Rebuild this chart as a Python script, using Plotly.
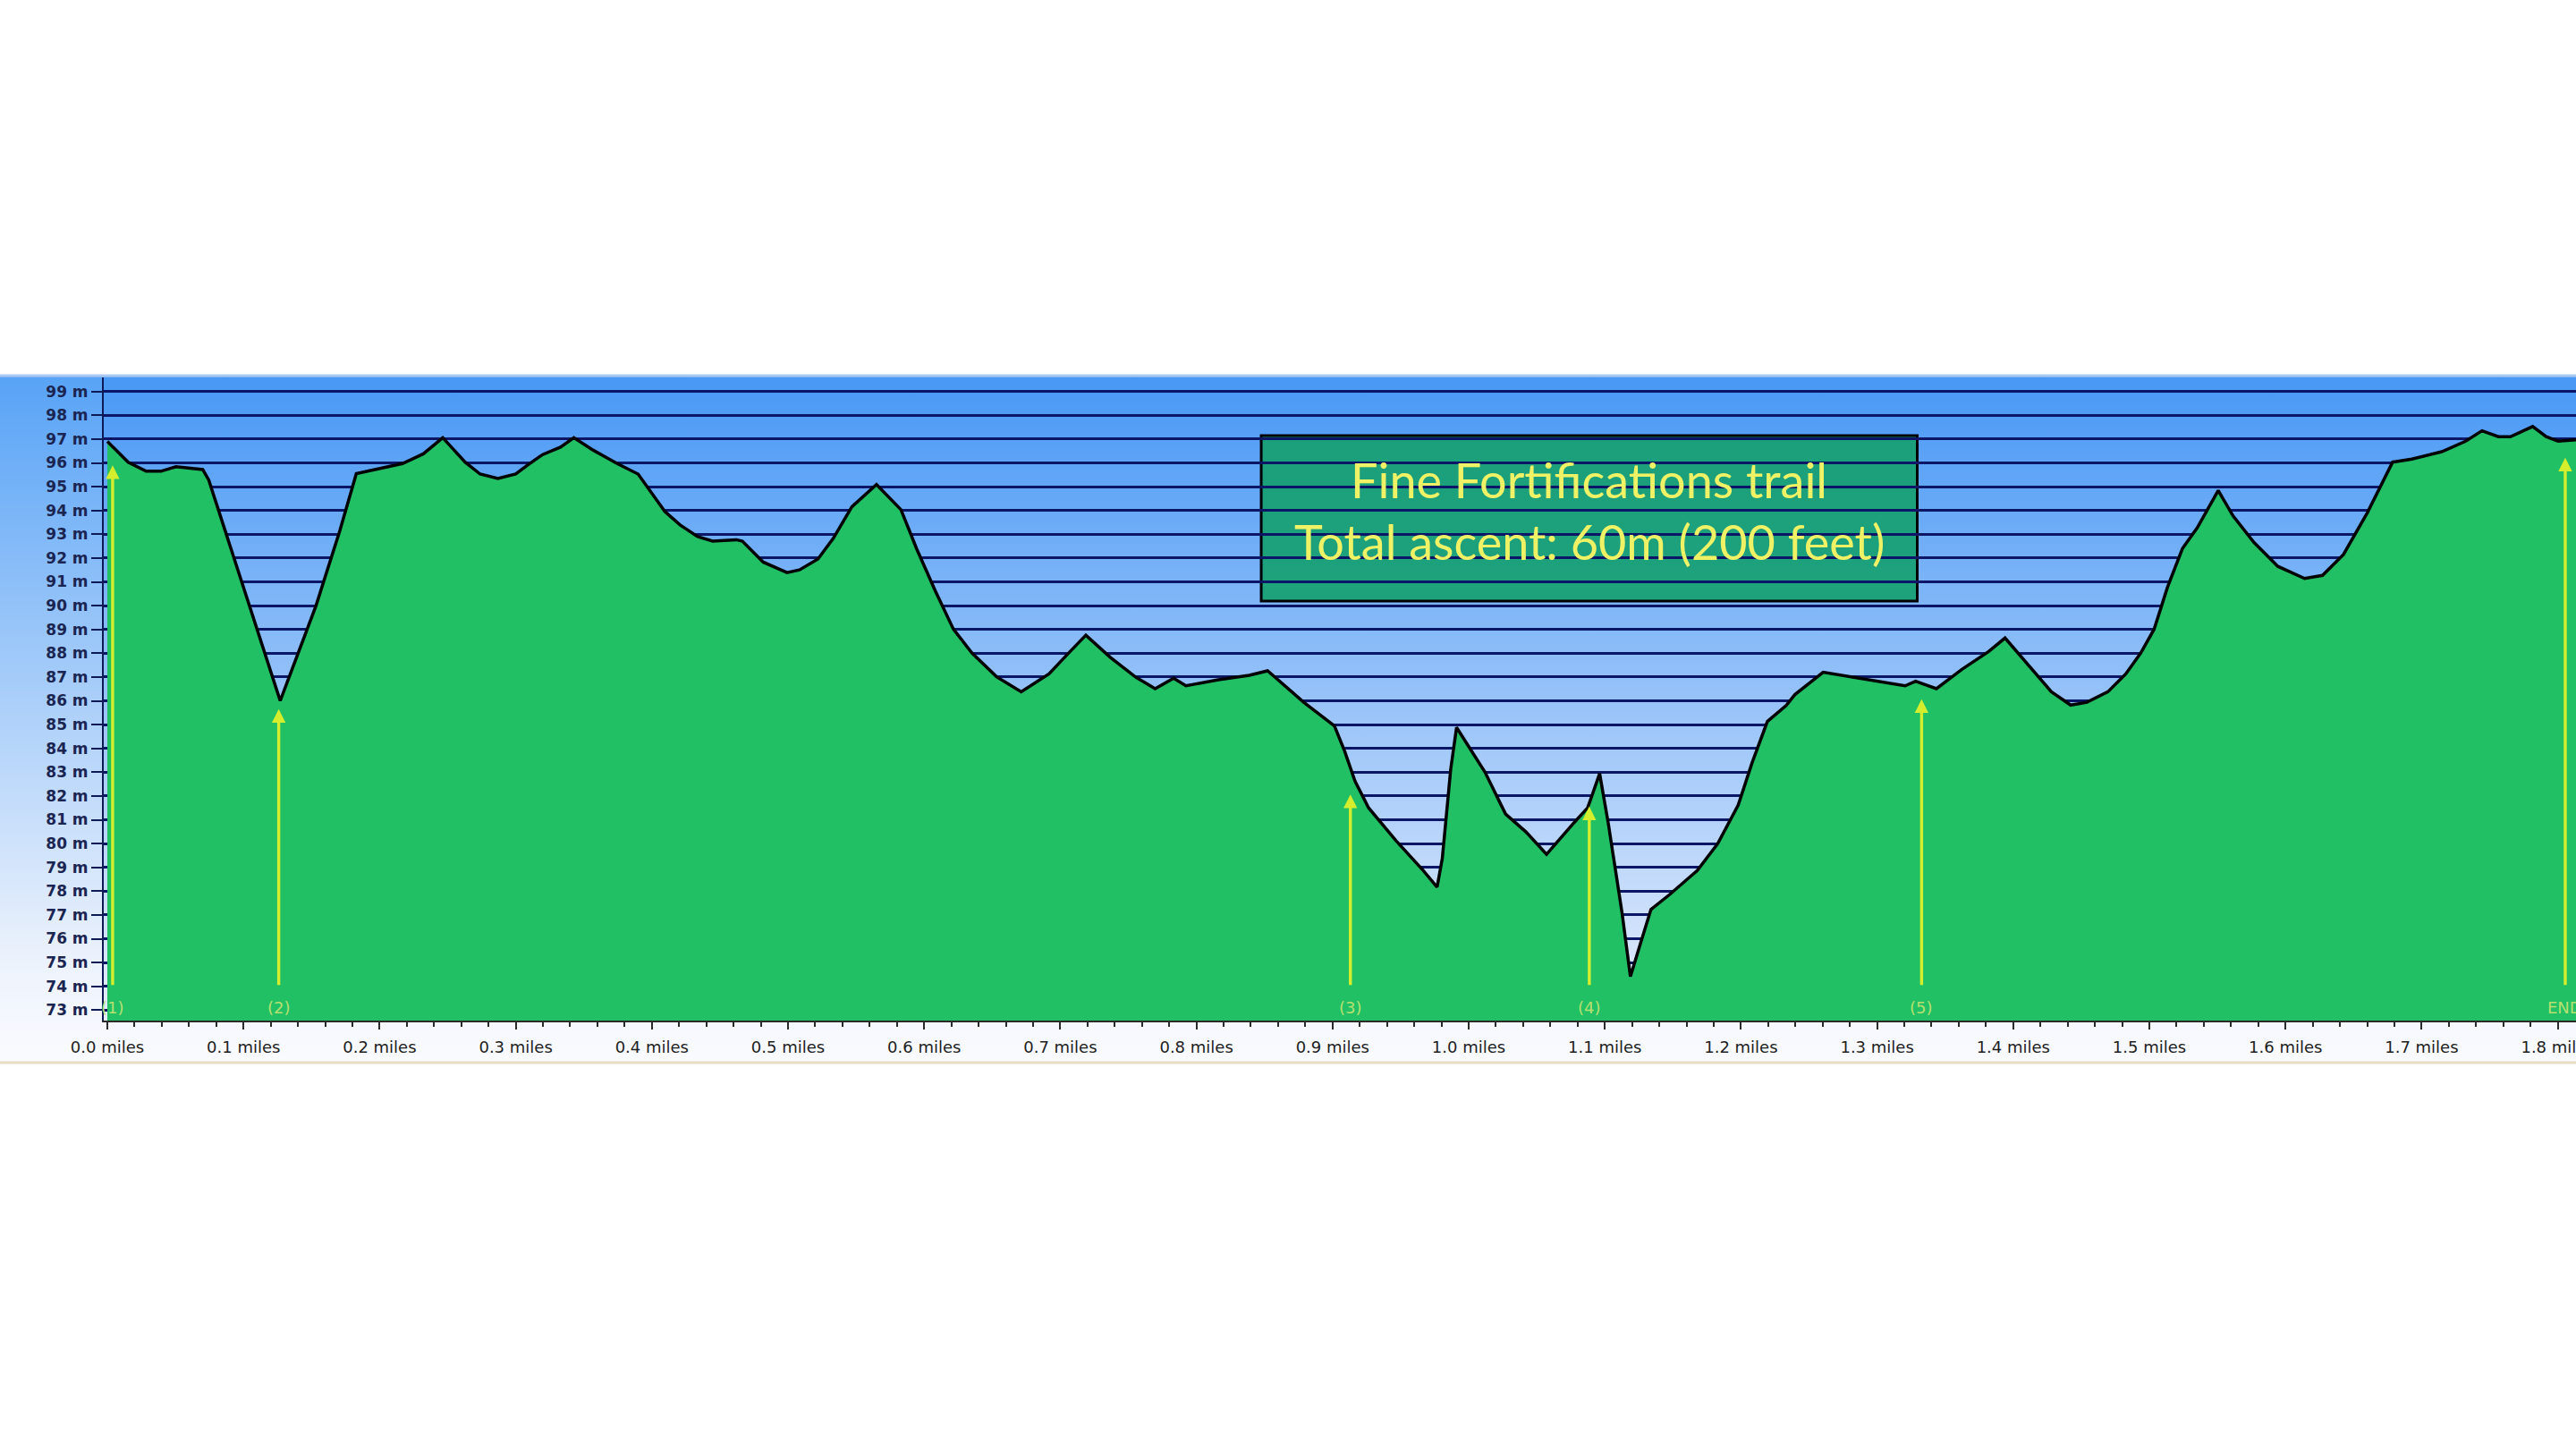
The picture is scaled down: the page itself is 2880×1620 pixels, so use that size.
import plotly.graph_objects as go

# ---------------- data ----------------
miles = [0.0000, 0.0153, 0.0285, 0.0394, 0.0504, 0.0701, 0.0745, 0.1270, 0.1533, 0.1708,
         0.1829, 0.1905, 0.2168, 0.2321, 0.2464, 0.2628, 0.2738, 0.2869, 0.3000, 0.3088,
         0.3198, 0.3329, 0.3427, 0.3570, 0.3745, 0.3899, 0.3986, 0.4095, 0.4205, 0.4336,
         0.4446, 0.4621, 0.4665, 0.4818, 0.4993, 0.5084, 0.5220, 0.5333, 0.5469, 0.5650,
         0.5830, 0.5944, 0.6080, 0.6215, 0.6351, 0.6532, 0.6713, 0.6917, 0.7052, 0.7188,
         0.7369, 0.7550, 0.7697, 0.7833, 0.7923, 0.8161, 0.8388, 0.8523, 0.8586, 0.8788,
         0.9014, 0.9089, 0.9165, 0.9265, 0.9466, 0.9667, 0.9768, 0.9806, 0.9868, 0.9911,
         1.0120, 1.0271, 1.0421, 1.0572, 1.0773, 1.0874, 1.0962, 1.1025, 1.1126, 1.1188,
         1.1251, 1.1339, 1.1477, 1.1679, 1.1829, 1.1980, 1.2081, 1.2194, 1.2332, 1.2396,
         1.2604, 1.2878, 1.3206, 1.3283, 1.3436, 1.3623, 1.3820, 1.3940, 1.4126, 1.4280,
         1.4422, 1.4542, 1.4696, 1.4827, 1.4937, 1.5035, 1.5133, 1.5243, 1.5352, 1.5506,
         1.5615, 1.5769, 1.5944, 1.6141, 1.6272, 1.6426, 1.6601, 1.6787, 1.6929, 1.7148,
         1.7323, 1.7444, 1.7564, 1.7652, 1.7816, 1.7915, 1.8002, 1.8134]
elevation_m = [96.90, 96.03, 95.65, 95.65, 95.84, 95.72, 95.28, 86.00, 90.00, 93.15,
               95.55, 95.65, 95.97, 96.38, 97.06, 96.03, 95.53, 95.34, 95.53, 95.91,
               96.35, 96.66, 97.06, 96.53, 95.97, 95.53, 94.84, 93.96, 93.40, 92.90,
               92.71, 92.77, 92.71, 91.83, 91.39, 91.50, 91.96, 92.83, 94.15, 95.09,
               94.03, 92.40, 90.64, 89.01, 88.01, 87.01, 86.38, 87.13, 87.95, 88.76,
               87.82, 87.01, 86.51, 86.95, 86.63, 86.88, 87.07, 87.26, 86.95, 85.94,
               84.94, 83.88, 82.62, 81.50, 80.12, 78.86, 78.17, 79.36, 83.12, 84.88,
               83.00, 81.24, 80.49, 79.55, 80.87, 81.50, 82.94, 80.87, 77.11, 74.41,
               75.60, 77.23, 77.86, 78.86, 79.99, 81.62, 83.38, 85.13, 85.80, 86.26,
               87.20, 86.95, 86.63, 86.82, 86.51, 87.32, 88.07, 88.64, 87.38, 86.38,
               85.82, 85.94, 86.38, 87.13, 88.01, 89.01, 90.77, 92.40, 93.27, 94.84,
               93.77, 92.65, 91.65, 91.14, 91.27, 92.15, 93.90, 96.03, 96.16, 96.47,
               96.91, 97.35, 97.10, 97.10, 97.53, 97.10, 96.91, 96.97]

waypoint_labels = ["(1)", "(2)", "(3)", "(4)", "(5)", "END"]
waypoint_miles = [0.0039, 0.1259, 0.9131, 1.0886, 1.3327, 1.8055]
waypoint_tip_m = [95.90, 85.65, 82.06, 81.56, 86.07, 96.22]

title_lines = ["Fine Fortifications trail", "Total ascent: 60m (200 feet)"]

# ---------------- layout geometry (pixels) ----------------
W, H = 2880, 1620
PANEL_TOP, PANEL_BOT = 419, 1190
PLOT_LEFT, PLOT_TOP, PLOT_BOT = 116, 422, 1141
X0_PX, PX_PER_MILE = 120, 1522.0
Y99_PX, PX_PER_M = 437.7, 26.6

x_lo = (PLOT_LEFT - X0_PX) / PX_PER_MILE
x_hi = (W - X0_PX) / PX_PER_MILE
y_hi = 99 + (Y99_PX - PLOT_TOP) / PX_PER_M
y_lo = 99 - (PLOT_BOT - Y99_PX) / PX_PER_M

panel_dom = [(H - PANEL_BOT) / H, (H - PANEL_TOP) / H]
plot_ydom = [(H - PLOT_BOT) / H, (H - PLOT_TOP) / H]
plot_xdom = [PLOT_LEFT / W, 1.0]

fig = go.Figure()

# panel background gradient (subplot xy, drawn beneath main subplot)
fig.add_trace(go.Scatter(
    x=[0, 1, 1, 0, 0], y=[0, 0, 1, 1, 0], mode="none", fill="toself",
    fillgradient=dict(type="vertical",
                      colorscale=[[0, "rgb(250,251,254)"], [0.15, "rgb(236,242,252)"],
                                  [1, "rgb(88,163,246)"]]),
    xaxis="x", yaxis="y", hoverinfo="skip", showlegend=False))

# plot-area gradient
ph = PANEL_BOT - PANEL_TOP
pa_x0 = PLOT_LEFT / W
pa_y0 = (PANEL_BOT - PLOT_BOT) / ph
pa_y1 = (PANEL_BOT - PLOT_TOP) / ph
fig.add_trace(go.Scatter(
    x=[pa_x0, 1, 1, pa_x0, pa_x0], y=[pa_y0, pa_y0, pa_y1, pa_y1, pa_y0],
    mode="none", fill="toself",
    fillgradient=dict(type="vertical",
                      colorscale=[[0, "rgb(230,237,252)"], [1, "rgb(72,152,245)"]]),
    xaxis="x", yaxis="y", hoverinfo="skip", showlegend=False))

# elevation profile
fig.add_trace(go.Scatter(
    x=miles, y=elevation_m, xaxis="x2", yaxis="y2", mode="lines",
    line=dict(color="black", width=3.5), fill="tozeroy", fillcolor="#22c064",
    showlegend=False, hoverinfo="x+y"))

# waypoint arrows and labels
for lab, mx, tip in zip(waypoint_labels, waypoint_miles, waypoint_tip_m):
    fig.add_annotation(x=mx, y=tip, ax=mx, ay=74.0, xref="x2", yref="y2",
                       axref="x2", ayref="y2", text="", showarrow=True,
                       arrowhead=2, arrowsize=0.9, arrowwidth=3.4,
                       arrowcolor="#d4ee2e", standoff=0)
    fig.add_annotation(x=mx, y=73.12, xref="x2", yref="y2", text=lab,
                       showarrow=False,
                       font=dict(family="DejaVu Sans", size=18, color="#b5e070"))

# title box
fig.add_shape(type="rect", xref="x2", yref="y2", x0=0.8476, x1=1.3295,
              y0=90.19, y1=97.15, fillcolor="rgba(20,160,110,0.9)",
              line=dict(color="black", width=3), layer="below")
for txt, yy in zip(title_lines, [95.30, 92.68]):
    fig.add_annotation(x=1.0885, y=yy, xref="x2", yref="y2", text=txt,
                       showarrow=False,
                       font=dict(family="Lato", size=54, color="#f0f266"))

# panel edge lines
fig.add_shape(type="line", xref="paper", yref="paper", x0=0, x1=1,
              y0=(H - PANEL_TOP - 1) / H, y1=(H - PANEL_TOP - 1) / H,
              line=dict(color="rgb(170,200,242)", width=3), layer="above")
fig.add_shape(type="line", xref="paper", yref="paper", x0=0, x1=1,
              y0=(H - PANEL_BOT + 2) / H, y1=(H - PANEL_BOT + 2) / H,
              line=dict(color="rgb(232,222,196)", width=3), layer="above")

fig.update_layout(
    width=W, height=H, autosize=False,
    margin=dict(l=0, r=0, t=0, b=0, pad=0),
    paper_bgcolor="white", plot_bgcolor="rgba(0,0,0,0)",
    showlegend=False,
    xaxis=dict(domain=[0, 1], range=[0, 1], visible=False, fixedrange=True,
               automargin=False),
    yaxis=dict(domain=panel_dom, range=[0, 1], visible=False, fixedrange=True,
               automargin=False),
    xaxis2=dict(domain=plot_xdom, range=[x_lo, x_hi], anchor="y2", automargin=False,
                tick0=0, dtick=0.1, tickformat=".1f", ticksuffix=" miles",
                ticks="outside", ticklen=8, tickwidth=2, tickcolor="#2a2a2a",
                ticklabeloverflow="allow", ticklabelstandoff=4,
                showline=True, linecolor="#2a2a2a", linewidth=2,
                showgrid=False, zeroline=False,
                minor=dict(dtick=0.02, ticklen=5, tickwidth=1.5,
                           tickcolor="#2a2a2a", showgrid=False),
                tickfont=dict(family="DejaVu Sans", size=18, color="#1e1e1e")),
    yaxis2=dict(domain=plot_ydom, range=[y_lo, y_hi], anchor="x2", automargin=False,
                tick0=73, dtick=1, ticksuffix=" m",
                ticks="outside", ticklen=12, tickwidth=2, tickcolor="#0d1a55",
                showline=True, linecolor="#0d1a55", linewidth=2,
                showgrid=True, gridcolor="#0b1766", gridwidth=2.5,
                zeroline=False,
                tickfont=dict(family="DejaVu Sans", size=17, color="#1b2552",
                              weight="bold")),
)

fig.write_html("out.html", config={"displayModeBar": False},
               post_script="document.body.style.margin='0px';")
